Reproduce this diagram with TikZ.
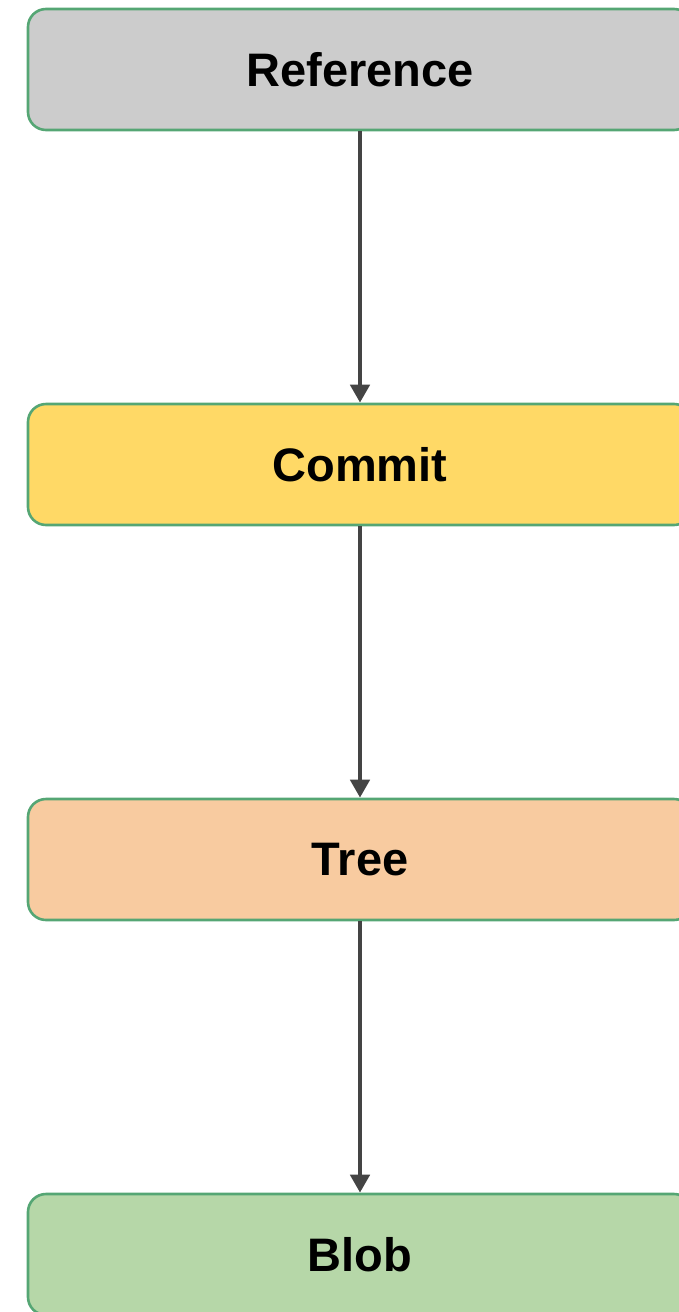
\documentclass[tikz,border=0pt]{standalone}
\usepackage{fontspec}
\setmainfont{Liberation Sans}
\usetikzlibrary{arrows.meta}
\definecolor{edgegreen}{HTML}{55A674}
\definecolor{refgray}{HTML}{CCCCCC}
\definecolor{commityellow}{HTML}{FFD966}
\definecolor{treeorange}{HTML}{F8CBA0}
\definecolor{blobgreen}{HTML}{B6D7A8}
\definecolor{linkgray}{HTML}{444444}
\tikzset{
  objbox/.style={draw=edgegreen, line width=2.6pt, rounded corners=18pt,
    minimum width=664pt, minimum height=121pt, inner sep=0pt,
    font=\fontsize{47}{56}\selectfont\bfseries},
  link/.style={draw=linkgray, line width=4.5pt,
    -{Triangle[length=18pt,width=19pt]}}
}
\begin{document}
\begin{tikzpicture}[x=1pt,y=-1pt]
  \useasboundingbox (0,0) rectangle (679,1312);
  \node[objbox, fill=refgray]      (ref)    at (360,69.5)   {Reference};
  \node[objbox, fill=commityellow] (commit) at (360,464.5)  {Commit};
  \node[objbox, fill=treeorange]   (tree)   at (360,859.5)  {Tree};
  \node[objbox, fill=blobgreen]    (blob)   at (360,1254.5) {Blob};
  \draw[link] (ref) -- (commit);
  \draw[link] (commit) -- (tree);
  \draw[link] (tree) -- (blob);
\end{tikzpicture}
\end{document}
